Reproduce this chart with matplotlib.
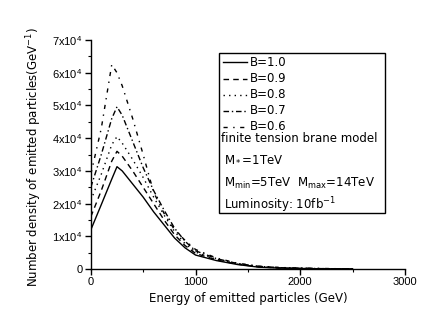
import matplotlib
matplotlib.use("Agg")
import matplotlib.pyplot as plt
from matplotlib.lines import Line2D
from matplotlib.patches import Rectangle
from matplotlib.ticker import MultipleLocator, FixedLocator, FixedFormatter

plt.rcParams['font.family'] = ['DejaVu Sans']
plt.rcParams['mathtext.fontset'] = 'dejavusans'

# ---- data (units of 1e4 GeV^-1) ----
energy = [0, 100, 200, 250, 300, 400, 500, 600, 700, 800, 900, 1000,
          1200, 1400, 1600, 1800, 2000, 2200, 2400, 2500]
b10 = [1.20, 1.97, 2.75, 3.13, 3.00, 2.60, 2.20, 1.75, 1.35, 0.95, 0.65, 0.43,
       0.26, 0.14, 0.06, 0.03, 0.02, 0.01, 0.01, 0.01]
b09 = [1.60, 2.40, 3.30, 3.60, 3.45, 3.00, 2.50, 2.00, 1.50, 1.05, 0.72, 0.48,
       0.28, 0.15, 0.07, 0.035, 0.02, 0.01, 0.01, 0.01]
b08 = [2.10, 2.90, 3.80, 4.05, 3.85, 3.35, 2.80, 2.20, 1.65, 1.15, 0.78, 0.52,
       0.30, 0.16, 0.08, 0.04, 0.025, 0.015, 0.01, 0.01]
b07 = [2.50, 3.50, 4.60, 4.96, 4.70, 3.90, 3.10, 2.40, 1.80, 1.25, 0.85, 0.56,
       0.32, 0.17, 0.085, 0.045, 0.025, 0.015, 0.01, 0.01]
b06 = [2.90, 4.30, 6.25, 6.00, 5.60, 4.60, 3.50, 2.35, 1.70, 1.20, 0.88, 0.60,
       0.34, 0.18, 0.09, 0.05, 0.03, 0.02, 0.01, 0.01]

series = [
    ("B=1.0", b10, '-'),
    ("B=0.9", b09, (0, (4, 3))),
    ("B=0.8", b08, (0, (1, 3))),
    ("B=0.7", b07, (0, (4, 2, 1, 2))),
    ("B=0.6", b06, (0, (3, 4, 1, 4))),
]

ytick_vals = [0, 1, 2, 3, 4, 5, 6, 7]
ytick_labels = ['0'] + [f'{v}x10$^{{\\mathregular{{4}}}}$' for v in ytick_vals[1:]]
xtick_vals = [0, 1000, 2000, 3000]

fig = plt.figure(figsize=(4.43, 3.31), dpi=100)
ax = fig.add_axes([0.205, 0.187, 0.709, 0.692])

for label, vals, ls in series:
    ax.plot(energy, vals, color='black', linestyle=ls, linewidth=1.0)

ax.set_xlim(0, 3000)
ax.set_ylim(0, 7)
ax.xaxis.set_major_locator(FixedLocator(xtick_vals))
ax.xaxis.set_minor_locator(MultipleLocator(500))
ax.yaxis.set_major_locator(FixedLocator(ytick_vals))
ax.yaxis.set_major_formatter(FixedFormatter(ytick_labels))
ax.yaxis.set_minor_locator(MultipleLocator(0.5))
ax.spines['top'].set_visible(False)
ax.spines['right'].set_visible(False)
for s in ['left', 'bottom']:
    ax.spines[s].set_linewidth(1.0)
ax.tick_params(which='major', direction='out', length=4, width=1, labelsize=8,
               pad=2, labelfontfamily='Liberation Sans')
ax.tick_params(which='minor', direction='out', length=2, width=0.8)

ax.set_xlabel('Energy of emitted particles (GeV)', fontsize=8.5, labelpad=3)
fig.text(0.077, 0.526, 'Number density of emitted particles(GeV$^{-1}$)',
         rotation=90, fontsize=8.5, ha='center', va='center')

# legend box (figure coords)
H = 331.0
W = 443.0
fig.add_artist(Rectangle((219 / W, 1 - 213 / H), (385 - 219) / W, (213 - 53) / H,
                         transform=fig.transFigure, fill=False,
                         edgecolor='black', linewidth=1.0))
ys = [62, 79, 95, 111, 127]
for (label, vals, ls), yp in zip(series, ys):
    fig.add_artist(Line2D([223 / W, 247 / W], [1 - yp / H, 1 - yp / H],
                          transform=fig.transFigure, color='black',
                          linestyle=ls, linewidth=1.0))
    fig.text(250 / W, 1 - yp / H, label, fontsize=8.5, va='center', ha='left')

fig.text(221 / W, 1 - 139 / H, 'finite tension brane model', fontsize=8.5,
         va='center', ha='left')
fig.text(224 / W, 1 - 159 / H, r'M$_*$=1TeV', fontsize=8.5, va='center', ha='left')
fig.text(224 / W, 1 - 183 / H, r'M$_{\mathrm{min}}$=5TeV  M$_{\mathrm{max}}$=14TeV',
         fontsize=8.5, va='center', ha='left')
fig.text(224 / W, 1 - 205 / H, r'Luminosity: 10fb$^{-1}$', fontsize=8.5,
         va='center', ha='left')

fig.savefig('out.png', dpi=100)
